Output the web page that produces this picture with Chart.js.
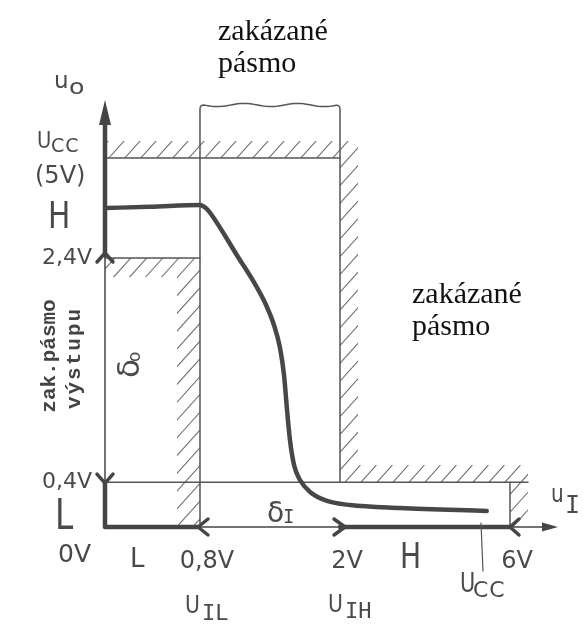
<!DOCTYPE html>
<html>
<head>
<meta charset="utf-8">
<script src="https://cdn.jsdelivr.net/npm/chart.js"></script>
<style>
  html, body { margin: 0; padding: 0; background: #ffffff; }
  canvas { display: block; }
</style>
</head>
<body>
<canvas id="c" width="585" height="630"></canvas>
<script>
// ---------------- data (volts) ----------------
const inputVoltage  = [0, 0.38, 0.80, 0.85, 0.894, 1.126, 1.271, 1.366, 1.434, 1.486, 1.520, 1.546, 1.571, 1.606, 1.657, 1.743, 1.889, 2.21, 3.27, 5.17];
const outputVoltage = [3.70, 3.73, 3.78, 3.70, 3.544, 2.426, 2.168, 1.981, 1.802, 1.597, 1.356, 1.044, 0.776, 0.553, 0.419, 0.312, 0.232, 0.196, 0.170, 0.143];
const xTickValues = [0.8, 2, 6];
const xTickLabels = ['0,8V', '2V', '6V'];
const yTickValues = [0.4, 2.4];
const yTickLabels = ['0,4V', '2,4V'];
const U_CC = 5;      // supply voltage
const U_IL = 0.8;    // max input L
const U_IH = 2;      // min input H
const U_IMAX = 6;    // max input
const U_OH = 2.4;    // min output H
const U_OL = 0.4;    // max output L

// schematic (non-uniform) scale breakpoints: [value, fraction of axis]
const X_BREAKS = [[0, 0], [0.8, 0.2097], [2, 0.5188], [5, 0.8322], [6, 0.8940], [7, 1]];
const Y_BREAKS = [[0, 0], [2.4, 0.6300], [5, 0.8642], [6.5, 1]];

function mapDec(br, v) {
  if (v <= br[0][0]) return br[0][1];
  for (let i = 1; i < br.length; i++) {
    if (v <= br[i][0]) {
      const [a, fa] = br[i - 1], [b, fb] = br[i];
      return fa + (v - a) / (b - a) * (fb - fa);
    }
  }
  const n = br.length;
  const [a, fa] = br[n - 2], [b, fb] = br[n - 1];
  return fa + (v - a) / (b - a) * (fb - fa);
}
function unmapDec(br, d) {
  for (let i = 1; i < br.length; i++) {
    if (d <= br[i][1] || i === br.length - 1) {
      const [a, fa] = br[i - 1], [b, fb] = br[i];
      return a + (d - fa) / (fb - fa) * (b - a);
    }
  }
}

const BaseLinear = Chart.LinearScale || Chart.registry.getScale('linear');
class PiecewiseScale extends BaseLinear {
  _br() { return this.axis === 'x' ? X_BREAKS : Y_BREAKS; }
  getPixelForValue(value) {
    if (value === null || value === undefined || isNaN(value)) return NaN;
    return this.getPixelForDecimal(mapDec(this._br(), value));
  }
  getValueForPixel(pixel) {
    return unmapDec(this._br(), this.getDecimalForPixel(pixel));
  }
}
PiecewiseScale.id = 'piecewise';
PiecewiseScale.defaults = BaseLinear.defaults;
Chart.register(PiecewiseScale);

const INK = '#4a4a4a';
const SANS = '"DejaVu Sans", sans-serif';
const MONO = '"DejaVu Sans Mono", monospace';
const SERIF = '"Liberation Serif", "Times New Roman", serif';

function txt(ctx, s, x, y, o = {}) {
  ctx.save();
  ctx.font = o.font || ('24px ' + SANS);
  ctx.fillStyle = o.color || INK;
  ctx.textAlign = o.align || 'left';
  ctx.textBaseline = o.baseline || 'alphabetic';
  if (o.ls) ctx.letterSpacing = o.ls + 'px';
  ctx.translate(x, y);
  if (o.rot) ctx.rotate(o.rot);
  if (o.sx) ctx.scale(o.sx, 1);
  ctx.fillText(s, 0, 0);
  ctx.restore();
}

function line(ctx, pts, w, color) {
  ctx.save();
  ctx.strokeStyle = color; ctx.lineWidth = w; ctx.lineCap = 'round'; ctx.lineJoin = 'round';
  ctx.beginPath();
  ctx.moveTo(pts[0][0], pts[0][1]);
  for (let i = 1; i < pts.length; i++) ctx.lineTo(pts[i][0], pts[i][1]);
  ctx.stroke();
  ctx.restore();
}

const diagramPlugin = {
  id: 'diagram',
  beforeDatasetsDraw(chart) {
    const ctx = chart.ctx;
    const X = v => chart.scales.x.getPixelForValue(v);
    const Y = v => chart.scales.y.getPixelForValue(v);
    const x0 = X(0), xL = X(U_IL), xH = X(U_IH), x6 = X(U_IMAX), xEnd = chart.chartArea.right;
    const y0 = Y(0), yOL = Y(U_OL), yOH = Y(U_OH), yCC = Y(U_CC), yTop = chart.chartArea.top;
    const B = 17;

    // ---- hatching ----
    ctx.save();
    ctx.beginPath();
    ctx.rect(x0, yCC - B, xH - x0, B);
    ctx.rect(xH, yCC - B, B + 1, yOL - (yCC - B));
    ctx.rect(xH, yOL - B, x6 + B + 1 - xH, B);
    ctx.rect(x6, yOL, B + 1, y0 - yOL);
    ctx.rect(x0, yOH, xL - x0, 19);
    ctx.rect(xL - 23, yOH, 23, y0 - yOH);
    ctx.clip();
    ctx.strokeStyle = '#707070'; ctx.lineWidth = 1.1;
    ctx.beginPath();
    const s = 0.9;
    for (let k = -700; k < 900; k += 16) {
      ctx.moveTo(k + s * 630, 0);
      ctx.lineTo(k, 630);
    }
    ctx.stroke();
    ctx.restore();

    // ---- frame lines (thin) ----
    const thin = 1.5, fc = '#555555';
    line(ctx, [[x0, yCC], [xH, yCC]], thin, fc);
    line(ctx, [[x0, yOH], [xL, yOH]], thin, fc);
    line(ctx, [[x0, yOL], [x6 + B + 1, yOL]], thin, fc);
    line(ctx, [[x6, yOL], [x6, y0]], thin, fc);

    // wavy-topped band between U_IL and U_IH
    const wy = yTop + 5;
    ctx.save();
    ctx.strokeStyle = fc; ctx.lineWidth = thin; ctx.lineJoin = 'round';
    ctx.beginPath();
    ctx.moveTo(xL, y0);
    ctx.lineTo(xL, wy + 4);
    ctx.quadraticCurveTo(xL, wy, xL + 4, wy);
    for (let t = xL + 4; t <= xH - 4; t += 2) {
      ctx.lineTo(t, wy + 1.6 * Math.sin((t - xL - 4) / 8.5));
    }
    ctx.quadraticCurveTo(xH, wy, xH, wy + 4);
    ctx.lineTo(xH, yOL);
    ctx.stroke();
    ctx.restore();

    // ---- axes ----
    const thick = 4.5, ac = '#454545';
    line(ctx, [[x0, yTop + 22], [x0, yOH - 3]], thick, ac);
    line(ctx, [[x0, yOH - 3], [x0, yOL]], thin, ac);
    line(ctx, [[x0, yOL], [x0, y0], [xL - 2, y0]], thick, ac);
    line(ctx, [[xL, y0], [xH, y0]], thin, ac);
    line(ctx, [[xH, y0], [x6, y0]], thick, ac);
    line(ctx, [[x6, y0], [xEnd - 12, y0]], thin, ac);
    // arrowheads of axes
    ctx.save();
    ctx.fillStyle = ac;
    ctx.beginPath();
    ctx.moveTo(x0, yTop); ctx.lineTo(x0 - 6, yTop + 25); ctx.lineTo(x0 + 6, yTop + 25); ctx.closePath(); ctx.fill();
    ctx.beginPath();
    ctx.moveTo(xEnd, y0); ctx.lineTo(xEnd - 16, y0 - 4.5); ctx.lineTo(xEnd - 16, y0 + 4.5); ctx.closePath(); ctx.fill();
    ctx.restore();
    // dimension arrows
    const aw = 3.5;
    line(ctx, [[x0 - 8, yOH + 4], [x0, yOH - 5], [x0 + 8, yOH + 4]], aw, ac);
    line(ctx, [[x0 - 8, yOL - 8], [x0, yOL + 1], [x0 + 8, yOL - 8]], aw, ac);
    line(ctx, [[xL + 8, y0 - 8], [xL - 2, y0], [xL + 8, y0 + 8]], aw, ac);
    line(ctx, [[xH - 6, y0 - 8], [xH + 5, y0], [xH - 6, y0 + 8]], aw, ac);
    line(ctx, [[x6 + 9, y0 - 8], [x6, y0], [x6 + 9, y0 + 8]], aw, ac);

    // U_CC pointer on input axis
    line(ctx, [[X(U_CC) - 1, y0 - 4], [X(U_CC) + 1, y0 + 44]], 1.2, '#555');
  },
  afterDraw(chart) {
    const ctx = chart.ctx;
    // titles in serif
    const sf = '30px ' + SERIF, black = '#111111';
    txt(ctx, 'zakázané', 218, 40, { font: sf, color: black });
    txt(ctx, 'pásmo', 218, 72, { font: sf, color: black });
    txt(ctx, 'zakázané', 412, 303, { font: sf, color: black });
    txt(ctx, 'pásmo', 412, 335, { font: sf, color: black });

    // output axis labels
    txt(ctx, 'u', 54, 88, { font: '23px ' + SANS });
    txt(ctx, 'o', 69, 94, { font: '22px ' + SANS, sx: 1.15 });
    txt(ctx, 'U', 37, 148, { font: '23px ' + SANS, sx: 0.85 });
    txt(ctx, 'CC', 51, 152, { font: '19px ' + SANS, ls: 1 });
    txt(ctx, '(5V)', 35, 183, { font: '24px ' + SANS });
    txt(ctx, 'H', 48, 228, { font: '38px ' + SANS, sx: 0.78 });
    txt(ctx, 'L', 55, 529, { font: '42px ' + SANS, sx: 0.78 });

    // rotated output-band label
    txt(ctx, 'zak.pásmo', 50, 356, { font: 'bold 21px "Liberation Mono", monospace', align: 'center', baseline: 'middle', rot: -Math.PI / 2, color: '#444' });
    txt(ctx, 'výstupu', 75, 358, { font: 'bold 21px "Liberation Mono", monospace', align: 'center', baseline: 'middle', rot: -Math.PI / 2, color: '#444', ls: 2 });

    // delta_O (rotated)
    ctx.save();
    ctx.translate(126, 365);
    ctx.rotate(-Math.PI / 2);
    ctx.fillStyle = INK; ctx.textBaseline = 'alphabetic';
    ctx.font = '31px ' + SANS;
    ctx.fillText('δ', -13, 13);
    ctx.font = '17px ' + SANS;
    ctx.fillText('o', 3, 14);
    ctx.restore();

    // delta_I
    txt(ctx, 'δ', 267, 522, { font: '28px ' + SANS });
    txt(ctx, 'I', 283, 523, { font: '19px ' + MONO });

    // input axis labels
    txt(ctx, '0V', 58, 562, { font: '25px ' + SANS });
    txt(ctx, 'L', 130, 567, { font: '26px ' + SANS });
    txt(ctx, 'H', 400, 568, { font: '36px ' + SANS, sx: 0.78 });
    txt(ctx, 'U', 185, 613, { font: '24px ' + SANS, sx: 0.85 });
    txt(ctx, 'IL', 202, 620, { font: '22px ' + MONO });
    txt(ctx, 'U', 328, 612, { font: '24px ' + SANS, sx: 0.85 });
    txt(ctx, 'IH', 345, 618, { font: '22px ' + MONO });
    txt(ctx, 'U', 460, 592, { font: '26px ' + SANS, sx: 0.8 });
    txt(ctx, 'CC', 473, 597, { font: '22px ' + SANS, ls: 1 });
    txt(ctx, 'u', 551, 502, { font: '25px ' + SANS, sx: 0.8 });
    txt(ctx, 'I', 565, 513, { font: '25px ' + MONO });
  }
};

new Chart(document.getElementById('c').getContext('2d'), {
  type: 'line',
  data: {
    datasets: [{
      label: 'u_O = f(u_I)',
      data: inputVoltage.map((x, i) => ({ x: x, y: outputVoltage[i] })),
      borderColor: '#474747',
      borderWidth: 4.5,
      pointRadius: 0,
      cubicInterpolationMode: 'monotone',
      borderCapStyle: 'round',
      fill: false
    }]
  },
  options: {
    responsive: false,
    animation: false,
    devicePixelRatio: 1,
    layout: { padding: { left: 0, top: 100, right: 27, bottom: 0 } },
    plugins: { legend: { display: false }, tooltip: { enabled: false } },
    scales: {
      x: {
        type: 'piecewise', min: 0, max: 7, position: 'bottom',
        grid: { display: false, drawTicks: false },
        border: { display: false },
        afterBuildTicks: s => { s.ticks = xTickValues.map(v => ({ value: v })); },
        afterFit: s => { s.height = 103; },
        ticks: {
          callback: (v, i) => xTickLabels[i],
          font: { family: 'DejaVu Sans', size: 24 },
          color: INK, padding: 20, labelOffset: 7, maxRotation: 0, autoSkip: false
        }
      },
      y: {
        type: 'piecewise', min: 0, max: 6.5, position: 'left',
        grid: { display: false, drawTicks: false },
        border: { display: false },
        afterBuildTicks: s => { s.ticks = yTickValues.map(v => ({ value: v })); },
        afterFit: s => { s.width = 105; },
        ticks: {
          callback: (v, i) => yTickLabels[i],
          font: { family: 'DejaVu Sans', size: 22 },
          color: INK, padding: 13, autoSkip: false
        }
      }
    }
  },
  plugins: [diagramPlugin]
});
</script>
</body>
</html>
